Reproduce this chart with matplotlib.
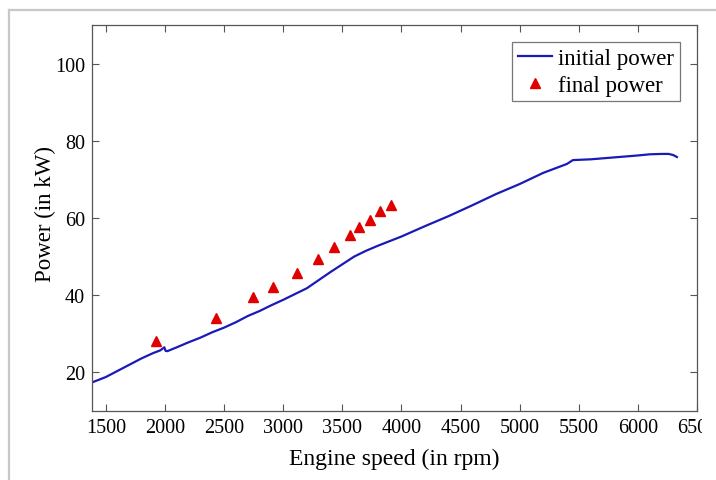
import matplotlib
matplotlib.use("Agg")
import matplotlib.pyplot as plt
from matplotlib.lines import Line2D
from matplotlib.transforms import Bbox, TransformedBbox

# initial power curve (rpm, kW)
rpm_initial = [1383, 1450, 1500, 1600, 1700, 1800, 1900, 1960, 1995, 2005, 2020,
               2100, 2200, 2300, 2400, 2500, 2600, 2700, 2800, 2900, 3000,
               3100, 3200, 3300, 3400, 3500, 3600, 3700, 3800, 3900, 4000,
               4200, 4400, 4600, 4800, 5000, 5200, 5400, 5450, 5600, 5800,
               6000, 6100, 6200, 6260, 6300, 6330]
power_initial = [17.4, 18.2, 18.8, 20.4, 22.0, 23.6, 25.0, 25.7, 26.5, 25.6, 25.5,
                 26.5, 27.8, 29.0, 30.4, 31.6, 33.0, 34.6, 35.9, 37.4, 38.8,
                 40.3, 41.8, 43.9, 46.0, 48.0, 50.0, 51.5, 52.8, 54.0, 55.2,
                 57.9, 60.5, 63.3, 66.2, 68.8, 71.7, 74.0, 75.0, 75.2, 75.7,
                 76.2, 76.5, 76.6, 76.6, 76.3, 75.8]

# final power points
rpm_final = [1922, 2433, 2742, 2916, 3118, 3292, 3427, 3563, 3644, 3737, 3822, 3915]
power_final = [28.1, 34.0, 39.5, 42.2, 45.8, 49.3, 52.6, 55.5, 57.7, 59.6, 61.7, 63.3]

xticks = [1500, 2000, 2500, 3000, 3500, 4000, 4500, 5000, 5500, 6000, 6500]
yticks = [20, 40, 60, 80, 100]

plt.rcParams['font.family'] = ['Liberation Serif', 'DejaVu Serif']

fig = plt.figure(figsize=(7.16, 4.81), dpi=100)
fig.patch.set_facecolor('white')

# light gray frame of the image
fig.add_artist(Line2D([9/716, 1], [1 - 11/481, 1 - 11/481], color='#c8c8c8', lw=1.6,
                      transform=fig.transFigure))
fig.add_artist(Line2D([9/716, 9/716], [0, 1 - 11/481], color='#c8c8c8', lw=1.6,
                      transform=fig.transFigure))

ax = fig.add_axes([92/716, 1 - 412/481, (697 - 92)/716, (412 - 26)/481])

ax.plot(rpm_initial, power_initial, color='#1a1ab8', lw=1.6, label='initial power')
ax.plot(rpm_final, power_final, linestyle='none', marker='^', color='#e00000',
        markersize=7, label='final power')

ax.set_xlim(1383, 6500)
ax.set_ylim(10, 110)
ax.set_xticks(xticks)
ax.set_yticks(yticks)
ax.set_xticklabels([str(v) for v in xticks])
ax.tick_params(direction='in', length=5, width=0.8, color='#555555',
               top=True, right=True, labelsize=14.5, pad=5)
for s in ax.spines.values():
    s.set_color('#555555')
    s.set_linewidth(0.9)

ax.set_xlabel('Engine speed (in rpm)', fontsize=17, labelpad=8)
ax.set_ylabel('Power (in kW)', fontsize=16.5)
ax.yaxis.set_label_coords(-0.059, 0.513)

leg = ax.legend(loc='upper right', fontsize=16.5, frameon=True, fancybox=False,
                edgecolor='#555555', borderpad=0.25, handlelength=1.5,
                handletextpad=0.25, labelspacing=0.25, borderaxespad=0.75)
leg.get_frame().set_linewidth(0.9)

# clip the last tick label as in the reference
clip = TransformedBbox(Bbox([[0, 0], [702/716, 1]]), fig.transFigure)
for lab in ax.get_xticklabels():
    if lab.get_text() == '6500':
        lab.set_clip_box(clip)
        lab.set_clip_on(True)

fig.savefig('out.png', dpi=100, facecolor='white')
